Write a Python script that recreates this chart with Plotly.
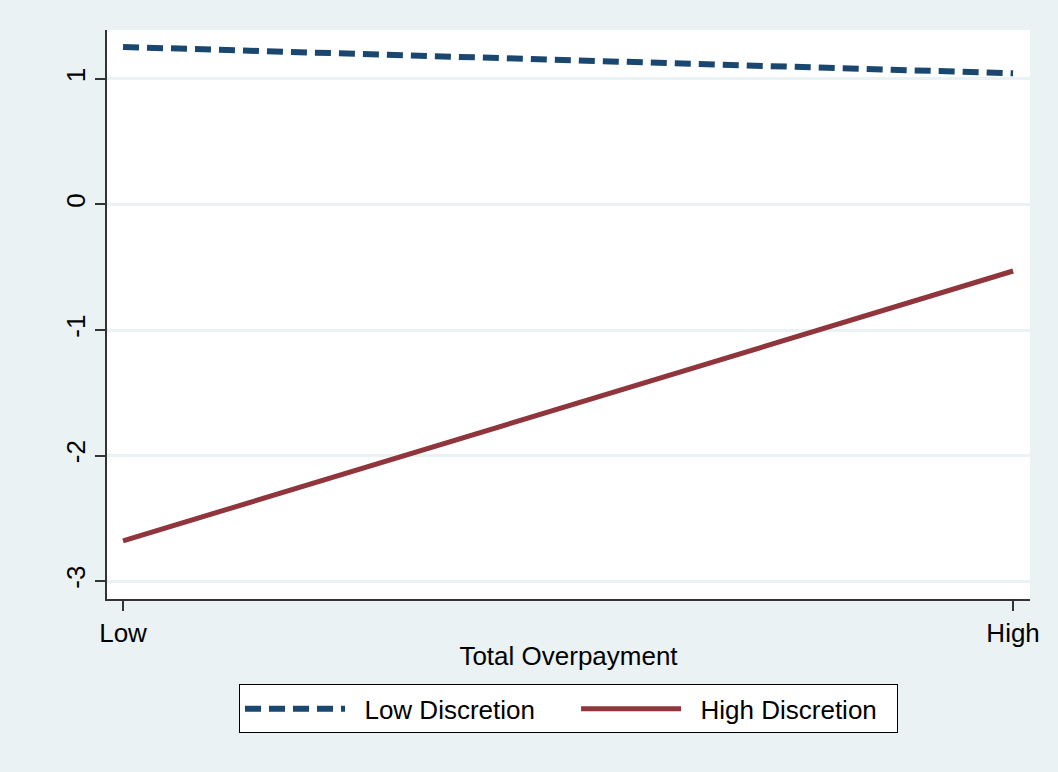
import plotly.graph_objects as go

# Predicted outcome by level of total overpayment
x_levels = [0, 1]
x_labels = ["Low", "High"]
low_discretion = [1.255, 1.045]
high_discretion = [-2.68, -0.53]

y_ticks = [-3, -2, -1, 0, 1]
y_labels = ["-3", "-2", "-1", "0", "1"]

NAVY = "#1a476f"
MAROON = "#90353b"
BG = "#eaf2f3"
FONT = "Liberation Sans, Arial, sans-serif"
NBSP = "\u00a0"

fig = go.Figure()
fig.add_trace(go.Scatter(
    x=x_levels, y=low_discretion, mode="lines",
    name=NBSP * 2 + "Low Discretion" + NBSP * 5,
    line=dict(color=NAVY, width=6, dash="16px,8px"),
))
fig.add_trace(go.Scatter(
    x=x_levels, y=high_discretion, mode="lines",
    name=NBSP * 2 + "High Discretion" + NBSP * 2,
    line=dict(color=MAROON, width=5),
))

fig.update_layout(
    width=1058, height=772,
    margin=dict(l=107, r=28, t=30, b=173),
    paper_bgcolor=BG,
    plot_bgcolor="white",
    font=dict(family=FONT, size=26, color="black"),
    showlegend=True,
    legend=dict(
        orientation="h",
        x=0.5, xanchor="center",
        y=-0.15, yanchor="top",
        bgcolor="white",
        bordercolor="black",
        borderwidth=1,
        itemwidth=100,
        font=dict(family=FONT, size=26),
        tracegroupgap=0,
    ),
    xaxis=dict(
        range=[-0.018, 1.019],
        tickvals=x_levels, ticktext=x_labels,
        ticks="outside", ticklen=10, tickwidth=1.5, tickcolor="#333",
        showline=True, linecolor="#333", linewidth=1.5,
        showgrid=False, zeroline=False,
        title=dict(text="Total Overpayment", standoff=0,
                   font=dict(family=FONT, size=26)),
    ),
    yaxis=dict(
        range=[-3.143, 1.39],
        tickvals=y_ticks, ticktext=y_labels,
        ticks="outside", ticklen=10, tickwidth=1.5, tickcolor="#333",
        tickangle=-90,
        showline=True, linecolor="#333", linewidth=1.5,
        showgrid=True, gridcolor=BG, gridwidth=2.5,
        zeroline=False,
    ),
)

fig.write_html("out.html")
